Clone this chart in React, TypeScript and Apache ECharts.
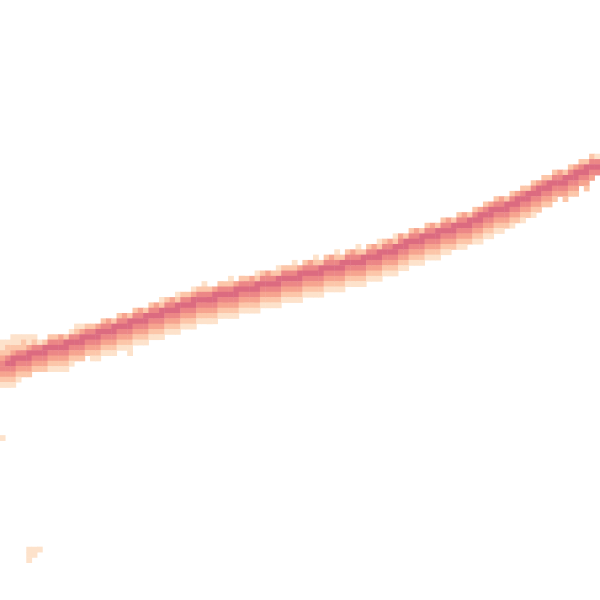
import React, { useEffect, useRef } from "react";
import * as echarts from "echarts";

// Grid of square cells (113 x 113), row 0 at the top.
const GRID_SIZE = 113;

// Per column: [top row of the band, intensity levels (1 light … 5 dark) from top to bottom]
const bandColumns: [number, string][] = [
  [64, "112344321"],
  [64, "122454321"],
  [63, "1123554321"],
  [63, "112454321"],
  [63, "12245432"],
  [63, "11355432"],
  [63, "1245432"],
  [64, "145432"],
  [64, "255432"],
  [63, "2454321"],
  [63, "2454321"],
  [63, "3454321"],
  [63, "2554321"],
  [62, "1454321"],
  [61, "1245432"],
  [61, "1355432"],
  [61, "245432"],
  [61, "2454321"],
  [61, "3554321"],
  [60, "2454321"],
  [60, "3454321"],
  [60, "2554321"],
  [59, "2454321"],
  [59, "3454321"],
  [59, "25543211"],
  [58, "2454321"],
  [58, "3454321"],
  [58, "2554321"],
  [57, "2454321"],
  [57, "3454321"],
  [56, "12554321"],
  [56, "2454321"],
  [56, "3454321"],
  [55, "12554321"],
  [55, "2454321"],
  [55, "2454321"],
  [54, "13554321"],
  [54, "2454321"],
  [53, "12454321"],
  [54, "2454321"],
  [54, "3554321"],
  [53, "2454321"],
  [53, "2454321"],
  [52, "12454321"],
  [53, "3554321"],
  [52, "2454321"],
  [52, "2454321"],
  [52, "3454321"],
  [51, "12554321"],
  [51, "2454321"],
  [51, "3454321"],
  [51, "2454321"],
  [50, "12554321"],
  [50, "2454321"],
  [50, "2454321"],
  [49, "12454321"],
  [50, "3554321"],
  [49, "2454321"],
  [49, "3454321"],
  [48, "12454321"],
  [49, "2554321"],
  [48, "2454321"],
  [48, "3454321"],
  [47, "12454321"],
  [48, "2554321"],
  [47, "2454321"],
  [47, "3454321"],
  [46, "12454321"],
  [47, "2554321"],
  [46, "2454321"],
  [46, "3454321"],
  [45, "12554321"],
  [45, "2454321"],
  [45, "3454321"],
  [44, "12554321"],
  [44, "3454321"],
  [44, "2554321"],
  [43, "2454321"],
  [43, "3454321"],
  [43, "2554321"],
  [42, "2454321"],
  [42, "3454321"],
  [42, "2554321"],
  [41, "2454321"],
  [41, "3454321"],
  [41, "255432"],
  [40, "2454321"],
  [40, "3454321"],
  [40, "255432"],
  [39, "2454321"],
  [39, "3554321"],
  [38, "2454321"],
  [38, "3554321"],
  [37, "2454321"],
  [37, "3454321"],
  [37, "255432"],
  [36, "2454321"],
  [36, "355432"],
  [35, "2454321"],
  [35, "255432"],
  [34, "2454321"],
  [34, "355432"],
  [33, "245432"],
  [33, "255432"],
  [32, "245432"],
  [32, "34543"],
  [32, "255432"],
  [31, "245432"],
  [31, "355432"],
  [30, "24543"],
  [30, "255432"],
  [29, "24543"],
  [29, "1454"],
];

// Isolated faint cells: [column, row, level]
const strayCells: [number, number, number][] = [
  [0, 82, 1],
  [5, 103, 1],
  [6, 103, 1],
  [7, 103, 1],
  [5, 104, 1],
  [6, 104, 1],
  [5, 105, 1],
];

const levelColors = ["#fde2cb", "#fcc6a9", "#f6a48f", "#ec8786", "#dc6b80"];

const categories = Array.from({ length: GRID_SIZE }, (_, i) => String(i));

export default function App() {
  const ref = useRef<HTMLDivElement>(null);
  useEffect(() => {
    if (!ref.current) return;
    const chart = echarts.init(ref.current, undefined, { renderer: "svg" });
    const data: [number, number, number][] = [];
    bandColumns.forEach(([top, levels], col) => {
      for (let i = 0; i < levels.length; i++) {
        data.push([col, top + i, Number(levels[i])]);
      }
    });
    strayCells.forEach((c) => data.push(c));
    const cell = 600 / 112.5;
    chart.setOption({
      animation: false,
      backgroundColor: "#ffffff",
      grid: { left: 0, top: 0, width: cell * GRID_SIZE, height: cell * GRID_SIZE },
      xAxis: { type: "category", data: categories, show: false },
      yAxis: { type: "category", data: categories, show: false, inverse: true },
      visualMap: {
        show: false,
        type: "piecewise",
        pieces: levelColors.map((c, i) => ({ value: i + 1, color: c })),
        dimension: 2,
      },
      series: [
        {
          type: "heatmap",
          data,
          itemStyle: { borderWidth: 0 },
          emphasis: { disabled: true },
        },
      ],
    });
    return () => chart.dispose();
  }, []);
  return (
    <div
      ref={ref}
      style={{ position: "fixed", left: 0, top: 0, width: 600, height: 600 }}
    />
  );
}
